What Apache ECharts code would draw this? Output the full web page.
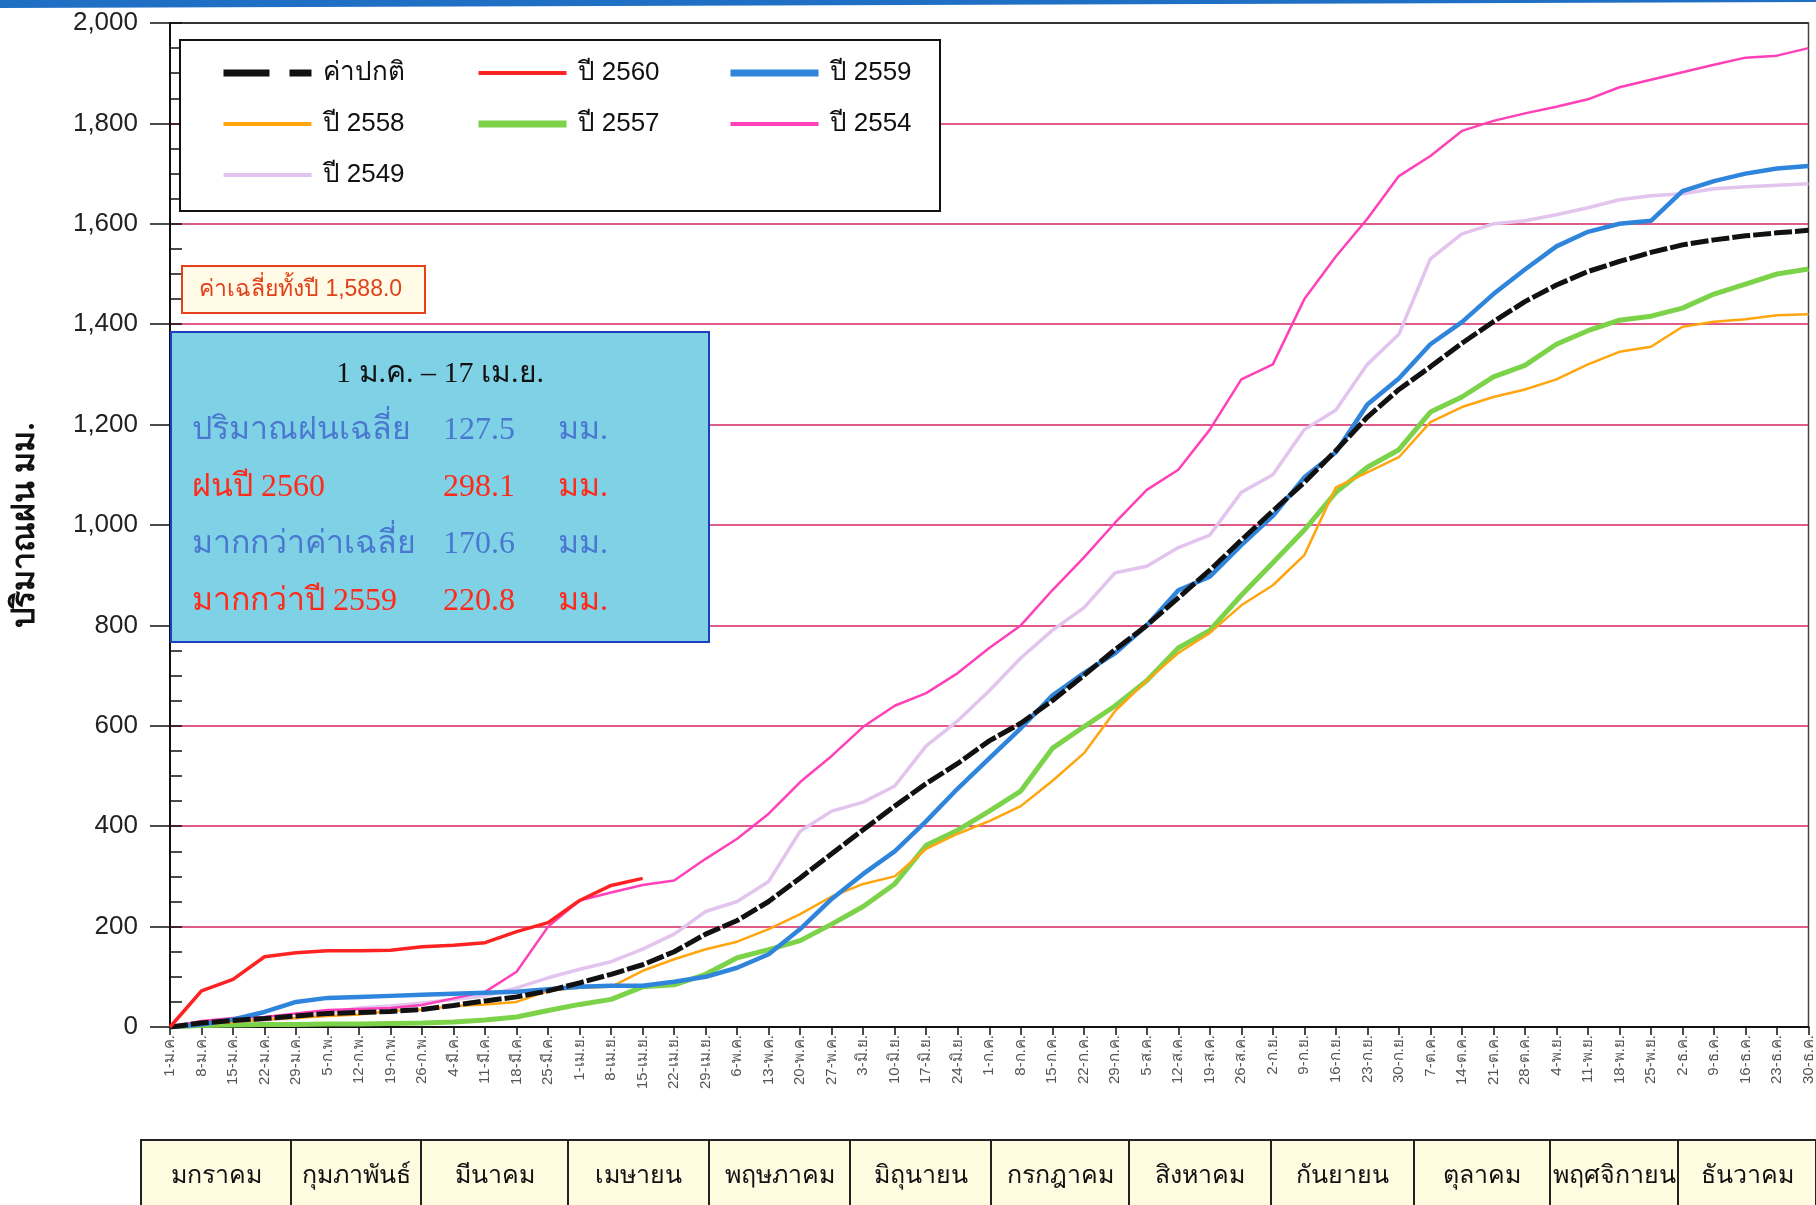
<!DOCTYPE html>
<html>
<head>
<meta charset="utf-8">
<title>ปริมาณฝนสะสม</title>
<script src="https://cdn.jsdelivr.net/npm/echarts@6/dist/echarts.min.js"></script>
<style>
  html, body { margin: 0; padding: 0; background: #fff; }
  #main { width: 1816px; height: 1205px; }
</style>
</head>
<body>
<div id="main"></div>
<script>
// weekly tick labels (1 ม.ค. .. 30 ธ.ค.)
var weekLabels = ['1-ม.ค.', '8-ม.ค.', '15-ม.ค.', '22-ม.ค.', '29-ม.ค.', '5-ก.พ.', '12-ก.พ.', '19-ก.พ.', '26-ก.พ.',
  '4-มี.ค.', '11-มี.ค.', '18-มี.ค.', '25-มี.ค.', '1-เม.ย.', '8-เม.ย.', '15-เม.ย.', '22-เม.ย.', '29-เม.ย.',
  '6-พ.ค.', '13-พ.ค.', '20-พ.ค.', '27-พ.ค.', '3-มิ.ย.', '10-มิ.ย.', '17-มิ.ย.', '24-มิ.ย.', '1-ก.ค.',
  '8-ก.ค.', '15-ก.ค.', '22-ก.ค.', '29-ก.ค.', '5-ส.ค.', '12-ส.ค.', '19-ส.ค.', '26-ส.ค.', '2-ก.ย.',
  '9-ก.ย.', '16-ก.ย.', '23-ก.ย.', '30-ก.ย.', '7-ต.ค.', '14-ต.ค.', '21-ต.ค.', '28-ต.ค.', '4-พ.ย.',
  '11-พ.ย.', '18-พ.ย.', '25-พ.ย.', '2-ธ.ค.', '9-ธ.ค.', '16-ธ.ค.', '23-ธ.ค.', '30-ธ.ค.']

var months = ['มกราคม', 'กุมภาพันธ์', 'มีนาคม', 'เมษายน', 'พฤษภาคม', 'มิถุนายน',
  'กรกฎาคม', 'สิงหาคม', 'กันยายน', 'ตุลาคม', 'พฤศจิกายน', 'ธันวาคม']

// cumulative rainfall (mm), one value per week
var normal = [0, 8, 13, 17, 22, 27, 29, 31, 35, 43, 52, 60, 72, 88, 105, 124, 150, 185, 212, 250, 297, 345, 393, 440, 485,
  525, 570, 605, 650, 700, 752, 800, 855, 910, 970, 1028, 1085, 1148, 1215, 1270, 1315, 1362, 1405, 1445, 1478,
  1505, 1525, 1543, 1558, 1568, 1576, 1582, 1587]
var y2560 = [0, 72, 95, 140, 148, 152, 152, 153, 160, 163, 168, 190, 208, 252, 282, 296]
var y2559 = [0, 5, 15, 30, 50, 58, 60, 62, 64, 66, 68, 70, 75, 80, 82, 82, 90, 100, 118, 145, 195, 255, 305, 350, 410,
  475, 535, 595, 660, 705, 745, 800, 870, 897, 960, 1018, 1095, 1145, 1240, 1292, 1360, 1404, 1460, 1509, 1555,
  1584, 1600, 1606, 1665, 1685, 1700, 1710, 1715]
var y2558 = [0, 5, 10, 15, 18, 22, 25, 32, 35, 42, 45, 50, 72, 78, 80, 112, 135, 155, 170, 195, 225, 260, 285, 300, 355,
  385, 410, 440, 490, 545, 630, 690, 745, 785, 840, 880, 940, 1075, 1105, 1135, 1205, 1235, 1255, 1270, 1290,
  1320, 1345, 1355, 1395, 1405, 1410, 1418, 1420]
var y2557 = [0, 3, 4, 5, 5, 6, 6, 7, 8, 10, 14, 20, 33, 45, 55, 80, 84, 105, 138, 154, 172, 205, 240, 285, 362,
  392, 430, 470, 555, 598, 640, 690, 755, 790, 860, 925, 990, 1065, 1115, 1150, 1225, 1255, 1295, 1318, 1360,
  1387, 1408, 1416, 1432, 1460, 1480, 1500, 1510]
var y2554 = [0, 12, 18, 20, 27, 34, 36, 38, 44, 57, 70, 110, 200, 252, 268, 283, 292, 335, 375, 425, 488, 540, 598, 640,
  665, 705, 755, 800, 870, 935, 1005, 1070, 1110, 1190, 1290, 1320, 1450, 1535, 1610, 1695, 1735, 1785, 1805,
  1820, 1833, 1848, 1872, 1887, 1902, 1917, 1931, 1935, 1950]
var y2549 = [0, 3, 10, 14, 18, 28, 38, 42, 48, 55, 62, 78, 98, 115, 130, 155, 185, 230, 250, 290, 390, 430, 448, 480,
  560, 610, 670, 735, 790, 835, 905, 918, 955, 980, 1065, 1100, 1190, 1229, 1320, 1380, 1530, 1580, 1600, 1606,
  1618, 1632, 1648, 1656, 1660, 1670, 1674, 1677, 1680]

// month cell edges along the bottom table (px)
var monthEdges = [141, 291, 421, 568, 709, 850, 991, 1129, 1271, 1414, 1550, 1678, 1816]

var chart = echarts.init(document.getElementById('main'))

var graphics = []
// blue strip at the top of the page
graphics.push({
  type: 'polygon', silent: true,
  shape: { points: [[0, 0], [1816, 0], [1816, 2], [0, 8]] },
  style: { fill: '#1f6fc4' }
})
// legend frame
graphics.push({
  type: 'rect', z: 5,
  shape: { x: 180, y: 40, width: 760, height: 171 },
  style: { fill: '#fff', stroke: '#111', lineWidth: 2 }
})
// annual mean box
graphics.push({
  type: 'rect', z: 5,
  shape: { x: 182, y: 266, width: 243, height: 47 },
  style: { fill: '#fffbe6', stroke: '#e8401c', lineWidth: 2 }
})
graphics.push({
  type: 'text', z: 6, x: 199, y: 290,
  style: { text: 'ค่าเฉลี่ยทั้งปี 1,588.0', fill: '#e0401a', font: '23px "Liberation Sans", sans-serif', verticalAlign: 'middle' }
})
// summary box 1 ม.ค. - 17 เม.ย.
graphics.push({
  type: 'rect', z: 5,
  shape: { x: 171, y: 332, width: 538, height: 310 },
  style: { fill: '#7fd2e6', stroke: '#1d3fbf', lineWidth: 2 }
})
graphics.push({
  type: 'text', z: 6, x: 440, y: 374,
  style: { text: '1 ม.ค. – 17 เม.ย.', fill: '#111', font: '30px "Liberation Serif", serif', align: 'center', verticalAlign: 'middle' }
})
var rows = [
  ['ปริมาณฝนเฉลี่ย', '127.5', 'มม.', '#4a78d0', 431],
  ['ฝนปี 2560', '298.1', 'มม.', '#ff2a1a', 488],
  ['มากกว่าค่าเฉลี่ย', '170.6', 'มม.', '#4a78d0', 545],
  ['มากกว่าปี 2559', '220.8', 'มม.', '#ff2a1a', 602]
]
rows.forEach(function (r) {
  var f = '32px "Liberation Serif", serif'
  graphics.push({ type: 'text', z: 6, x: 192, y: r[4], style: { text: r[0], fill: r[3], font: f, verticalAlign: 'middle' } })
  graphics.push({ type: 'text', z: 6, x: 443, y: r[4], style: { text: r[1], fill: r[3], font: f, verticalAlign: 'middle' } })
  graphics.push({ type: 'text', z: 6, x: 558, y: r[4], style: { text: r[2], fill: r[3], font: f, verticalAlign: 'middle' } })
})
// month table under the axis
for (var m = 0; m < months.length; m++) {
  var x0 = monthEdges[m], x1 = monthEdges[m + 1]
  graphics.push({
    type: 'rect',
    shape: { x: x0, y: 1140, width: x1 - x0, height: 75 },
    style: { fill: '#fffbe0', stroke: '#222', lineWidth: 2 }
  })
  graphics.push({
    type: 'text', x: (x0 + x1) / 2, y: 1176,
    style: { text: months[m], fill: '#111', font: '25px "Liberation Sans", sans-serif', align: 'center', verticalAlign: 'middle' }
  })
}

var gridColors = []
for (var k = 0; k < 10; k++) gridColors.push('#d62660')
gridColors.push('#222')

function lineSeries(name, data, color, width, z, dash) {
  return {
    name: name,
    type: 'line',
    data: data,
    symbol: 'none',
    z: z,
    smooth: false,
    lineStyle: { color: color, width: width, type: dash || 'solid' },
    itemStyle: { color: color }
  }
}

var legendText = { fontSize: 26, color: '#111', fontFamily: '"Liberation Sans", sans-serif', lineHeight: 30, padding: [0, 0, 0, 6] }
// hide the little symbol that line legends draw in the middle of the icon
var legendItem = { opacity: 0, color: 'transparent', borderWidth: 0 }

var option = {
  backgroundColor: '#fff',
  animation: false,
  grid: { left: 170, right: 6, top: 23, bottom: 178, show: true, borderColor: '#444', borderWidth: 1.5 },
  legend: [
    {
      data: [
        { name: 'ค่าปกติ', lineStyle: { type: [46, 20], width: 7 } },
        { name: 'ปี 2558', lineStyle: { width: 4 } },
        { name: 'ปี 2549', lineStyle: { width: 4 } }
      ],
      left: 220, top: 58, orient: 'vertical', itemWidth: 88, itemHeight: 14, itemGap: 21, padding: 0,
      textStyle: legendText, itemStyle: legendItem, z: 10
    },
    {
      data: [
        { name: 'ปี 2560', lineStyle: { width: 4 } },
        { name: 'ปี 2557', lineStyle: { width: 7 } }
      ],
      left: 475, top: 58, orient: 'vertical', itemWidth: 88, itemHeight: 14, itemGap: 21, padding: 0,
      textStyle: legendText, itemStyle: legendItem, z: 10
    },
    {
      data: [
        { name: 'ปี 2559', lineStyle: { width: 7 } },
        { name: 'ปี 2554', lineStyle: { width: 4 } }
      ],
      left: 727, top: 58, orient: 'vertical', itemWidth: 88, itemHeight: 14, itemGap: 21, padding: 0,
      textStyle: legendText, itemStyle: legendItem, z: 10
    }
  ],
  xAxis: {
    type: 'category',
    data: weekLabels,
    boundaryGap: false,
    axisLine: { lineStyle: { color: '#111', width: 2 } },
    axisTick: { interval: 0, length: 8, lineStyle: { color: '#111', width: 1.5 } },
    axisLabel: { interval: 0, rotate: 90, fontSize: 15, color: '#555', margin: 8, fontFamily: '"Liberation Sans", sans-serif' },
    splitLine: { show: false }
  },
  yAxis: [
    {
      type: 'value', min: 0, max: 2000, interval: 200,
      name: 'ปริมาณฝน มม.', nameLocation: 'middle', nameGap: 128, nameRotate: 90,
      nameTextStyle: { fontSize: 32, fontWeight: 'bold', color: '#111', fontFamily: '"Liberation Serif", serif' },
      axisLine: { show: true, lineStyle: { color: '#111', width: 2 } },
      axisTick: { show: true, length: 20, lineStyle: { color: '#111', width: 1.5 } },
      axisLabel: {
        fontSize: 26, color: '#222', margin: 32, fontFamily: '"Liberation Sans", sans-serif',
        formatter: function (v) { return v.toLocaleString('en-US') }
      },
      splitLine: { show: true, lineStyle: { color: gridColors, width: 1.6 } }
    },
    {
      type: 'value', min: 0, max: 2000, interval: 50, position: 'left',
      axisLine: { show: false },
      axisTick: { show: true, inside: true, length: 12, lineStyle: { color: '#111', width: 1.5 } },
      axisLabel: { show: false },
      splitLine: { show: false }
    }
  ],
  graphic: graphics,
  series: [
    lineSeries('ค่าปกติ', normal, '#111', 5, 9, [18, 3]),
    lineSeries('ปี 2560', y2560, '#ff2222', 3.5, 10),
    lineSeries('ปี 2559', y2559, '#2f84dc', 4.5, 8),
    lineSeries('ปี 2558', y2558, '#ffa510', 2.5, 6),
    lineSeries('ปี 2557', y2557, '#7cd34a', 5, 5),
    lineSeries('ปี 2554', y2554, '#ff40b8', 2.5, 7),
    lineSeries('ปี 2549', y2549, '#e2c4ee', 3.5, 4)
  ]
}

chart.setOption(option)
</script>
</body>
</html>
